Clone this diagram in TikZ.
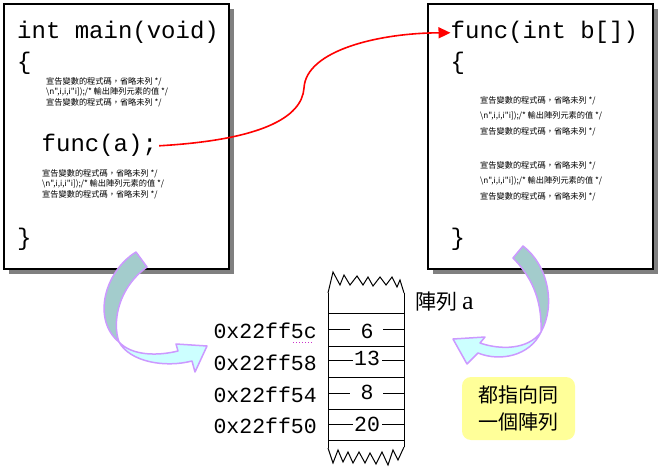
\documentclass[tikz,border=0pt]{standalone}
\usepackage{fontspec}
\setmainfont{Liberation Serif}
\setmonofont{Liberation Mono}
\newfontfamily\cjk{Noto Sans CJK TC}
\usepackage{xcolor}
\usepackage{tikz}
\usetikzlibrary{positioning, arrows.meta}
\definecolor{shadowgray}{HTML}{808080}
\definecolor{bandback}{HTML}{A3CCCC}
\definecolor{bandfront}{HTML}{CCFFFF}
\definecolor{bandedge}{HTML}{CC99FF}
\definecolor{noteyellow}{HTML}{FFFF99}
\definecolor{spellpink}{HTML}{CC33CC}

\newcommand{\stmtline}{宣告變數的程式碼，省略未列 */}
\newcommand{\printline}{\textbackslash n",i,i,i"i]);/* 輸出陣列元素的值 */}

\tikzset{
  codebox/.style={draw, line width=2pt, fill=white, minimum width=225pt, minimum height=265pt, inner sep=0pt},
  boxshadow/.style={fill=shadowgray, minimum width=225pt, minimum height=265pt, inner sep=0pt},
  code/.style={font=\ttfamily\fontsize{24}{24}\selectfont, anchor=base west, inner sep=0pt},
  junk/.style={font=\cjk\fontsize{8.2}{10.5}\selectfont, anchor=north west, align=left, inner sep=0pt},
  junkwide/.style={junk, font=\cjk\fontsize{8.2}{15.5}\selectfont},
  addr/.style={font=\ttfamily\fontsize{21.5}{21.5}\selectfont, anchor=base east, inner sep=0pt},
  cellnum/.style={font=\ttfamily\fontsize{21.5}{21.5}\selectfont, anchor=base, inner sep=0pt},
  memline/.style={line width=1pt},
  bandbackside/.style={fill=bandback, draw=bandedge, line width=1.5pt, line join=round},
  bandfrontside/.style={fill=bandfront, draw=bandedge, line width=1.5pt, line join=round},
}

\begin{document}
\begin{tikzpicture}[x=1pt, y=-1pt]
  \useasboundingbox[fill=white] (0,0) rectangle (661,473);

  % the two functions
  \node[boxshadow] (mainshadow) at (121.5,141.5) {};
  \node[codebox] (mainbox) at (116.5,136.5) {};
  \node[boxshadow] (funcshadow) at (545,141.5) {};
  \node[codebox] (funcbox) at (540,136.5) {};

  \node[code] (mainhead) at (17,39) {int main(void)};
  \node[code] (mainopen) at (17,70) {\{};
  \node[junk] (mainstmta) at (46,77) {\stmtline\\\printline\\\stmtline};
  \node[code] (call) at (41.5,152) {func(a);};
  \node[junk] (mainstmtb) at (42,169) {\stmtline\\\printline\\\stmtline};
  \node[code] (mainclose) at (17,245) {\}};

  \node[code] (funchead) at (450.5,39) {func(int b[])};
  \node[code] (funcopen) at (450.5,70) {\{};
  \node[junkwide] (funcstmta) at (480,96) {\stmtline\\\printline\\\stmtline};
  \node[junkwide] (funcstmtb) at (480,161) {\stmtline\\\printline\\\stmtline};
  \node[code] (funcclose) at (450.5,245) {\}};

  % the call
  \draw[red, line width=1.6pt, -{Triangle[length=12pt, width=11pt]}]
    ([xshift=2pt]call.east) .. controls (260,140) and (302,118) .. (304,88)
    .. controls (306,50) and (380,33) .. (funchead.west);

  % memory
  \draw[memline] (328,293) -- (333,272) -- (340,285) -- (344,275) -- (350,285) -- (357,276)
    -- (363,285) -- (368,277) -- (373,286) -- (380,277) -- (386,285) -- (392,277)
    -- (397,287) -- (400,280) -- (404,293);
  \draw[memline] (328,293) -- (328,448);
  \draw[memline] (404,293) -- (404,447);
  \draw[memline] (328,448) -- (333,463) -- (338,450) -- (343,462) -- (348,452) -- (353,463)
    -- (359,452) -- (365,463) -- (370,453) -- (376,464) -- (382,452) -- (388,465)
    -- (393,450) -- (398,460) -- (404,447);
  \draw[memline] (328,313) -- (404,313);
  \draw[memline] (328,346) -- (404,346);
  \draw[memline] (328,377) -- (404,377);
  \draw[memline] (328,409) -- (404,409);
  \draw[memline] (328,440) -- (404,440);

  \node[cellnum] (val6) at (367,338) {6};
  \node[cellnum] (val13) at (367,365) {13};
  \node[cellnum] (val8) at (367,399) {8};
  \node[cellnum] (val20) at (367,431) {20};
  \draw[memline] (328,329) -- (350,329) (383,329) -- (404,329);
  \draw[memline] (328,360) -- (353,360) (382,360) -- (404,360);
  \draw[memline] (328,393) -- (350,393) (383,393) -- (404,393);
  \draw[memline] (328,424) -- (353,424) (382,424) -- (404,424);

  \node[addr] (addr5c) at (317,338) {0x22ff5c};
  \node[addr] (addr58) at (317,370) {0x22ff58};
  \node[addr] (addr54) at (317,402) {0x22ff54};
  \node[addr] (addr50) at (317,433) {0x22ff50};
  \draw[spellpink, line width=1pt, dotted] ([shift={(-24,4)}]addr5c.base east) -- ([shift={(-3,4)}]addr5c.base east);

  \node[anchor=base west, inner sep=0pt] (arrname) at (415,309)
    {{\cjk\fontsize{21}{21}\selectfont 陣列}\hspace{5pt}{\fontsize{26}{26}\selectfont a}};

  % both point at the same array
  \path[bandbackside] (136,252) .. controls (104,272) and (92,320) .. (119,342)
    .. controls (112,322) and (118,288) .. (147,267) -- cycle;
  \path[bandfrontside] (119,342) .. controls (130,362) and (165,368) .. (192,361)
    -- (195,372) -- (207,346) -- (176,344) -- (178,351)
    .. controls (158,356) and (132,356) .. (119,342) -- cycle;

  \path[bandbackside] (523,246) .. controls (548,265) and (556,305) .. (541,332)
    .. controls (542,305) and (535,280) .. (513,258) -- cycle;
  \path[bandfrontside] (541,332) .. controls (530,356) and (500,362) .. (478,353)
    -- (467,364) -- (453,339) -- (485,337) -- (480,343)
    .. controls (500,350) and (528,350) .. (541,332) -- cycle;

  \node[fill=noteyellow, rounded corners=9pt, minimum width=113pt, minimum height=63pt,
        align=center, font=\cjk\fontsize{20}{27}\selectfont] (samenote) at (518.5,408.5)
    {都指向同\\一個陣列};
\end{tikzpicture}
\end{document}
